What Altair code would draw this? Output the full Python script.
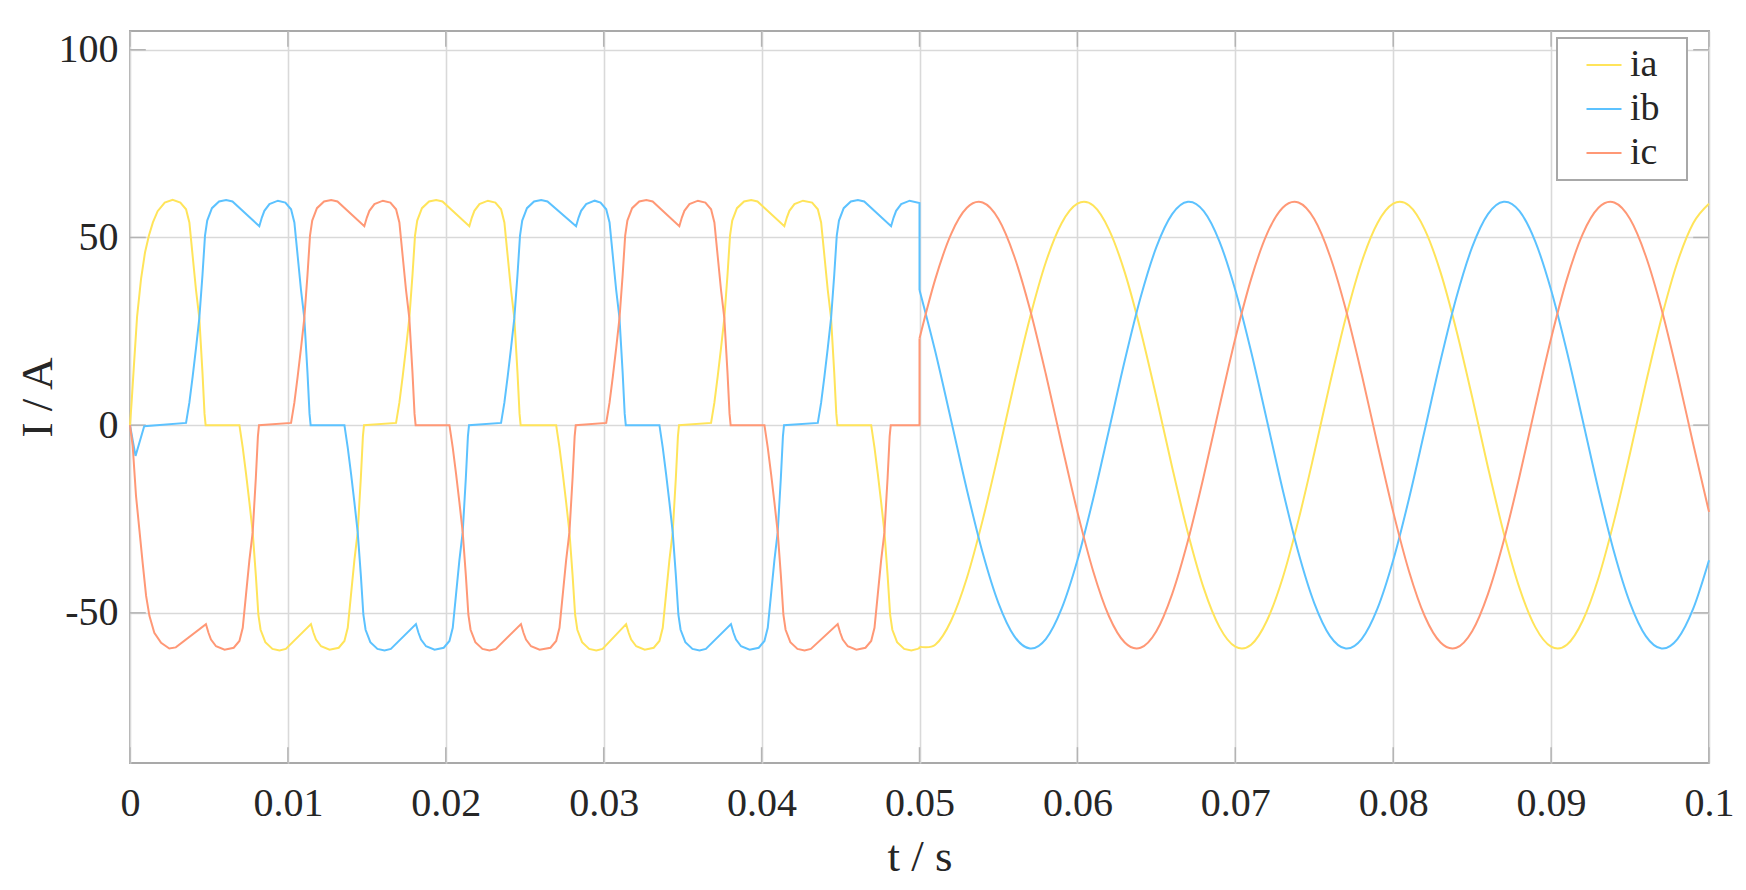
import altair as alt
import pandas as pd

FONT = "Liberation Serif"
TEXT = "#262626"

SERIES = ["ia", "ib", "ic"]
COLORS = ["#FFE45A", "#5CC2FF", "#FF9876"]

X_TICKS = [0, 0.01, 0.02, 0.03, 0.04, 0.05, 0.06, 0.07, 0.08, 0.09, 0.1]
Y_TICKS = [-50, 0, 50, 100]

# ---- six-step part (0 - 50 ms) ------------------------------------------
# instants (ms) where the two commutating phase currents cross
CROSS_MS = [4.39, 7.77, 11.04, 14.42, 17.69, 21.07, 24.34, 27.83,
            31.00, 34.37, 37.64, 41.02, 44.40, 47.78]

# leading edge of a pulse: offset from its crossing (ms), |I| (A)
ON_DT = [-0.84, -0.63, -0.42, -0.21, 0.00, 0.20, 0.36, 0.50, 0.80, 1.25, 1.70, 2.10]
ON_I = [0.6, 6.0, 13.0, 20.5, 28.5, 40.0, 50.5, 54.5, 57.8, 59.6, 60.0, 59.6]
# notch while the other group commutates: offset from that crossing (ms), |I|
NOTCH_DT = [0.42, 0.58, 0.74, 1.06, 1.60]
NOTCH_I = [53.0, 55.3, 57.1, 58.9, 59.8]
# trailing edge: offset from its crossing (ms), |I|
OFF_DT = [-1.20, -0.84, -0.63, -0.42, -0.21, 0.00, 0.20, 0.33, 0.40]
OFF_I = [59.3, 57.5, 54.0, 45.0, 36.0, 28.5, 14.0, 3.0, 0.0]

# start-up transient
IA_START_T = [0.0, 0.10, 0.25, 0.45, 0.70, 0.95, 1.20, 1.45, 1.75, 2.20, 2.70]
IA_START_I = [0.0, 6.0, 16.0, 29.0, 39.0, 46.0, 50.5, 54.0, 57.0, 59.3, 60.0]
IB_START_T = [0.0, 0.35, 0.90]
IB_START_I = [0.0, -8.2, -0.3]
IC_START_T = [0.0, 0.17, 0.38, 0.59, 0.80, 1.02, 1.23, 1.54, 1.97, 2.49, 2.90]
IC_START_I = [0.0, -5.5, -18.8, -27.7, -36.6, -45.5, -50.8, -55.3, -58.0, -59.5, -59.2]

# pulses: (sign, leading crossing, notch crossing, trailing crossing)
IA_PULSES = [(1, None, None, 0), (-1, 1, 2, 3), (1, 4, 5, 6),
             (-1, 7, 8, 9), (1, 10, 11, 12), (-1, 13, None, None)]
IB_PULSES = [(1, 0, 1, 2), (-1, 3, 4, 5), (1, 6, 7, 8),
             (-1, 9, 10, 11), (1, 12, 13, None)]
IC_PULSES = [(-1, None, 0, 1), (1, 2, 3, 4), (-1, 5, 6, 7),
             (1, 8, 9, 10), (-1, 11, 12, 13)]

SWITCH_MS = 50.0
PRE_SWITCH_I = [-59.4, 59.2, 0.0]

# ---- sinusoidal part (50 - 100 ms), one reading per ms ------------------
SINE_T_MS = list(range(50, 101))
IA_SINE = [-59.0, -58.5, -52.1, -40.7, -25.3, -7.5, 11.2, 28.7, 43.4, 53.8,
           59.0, 58.5, 52.1, 40.7, 25.3, 7.5, -11.2, -28.7, -43.4, -53.8,
           -59.0, -58.5, -52.1, -40.7, -25.3, -7.5, 11.2, 28.7, 43.4, 53.8,
           59.0, 58.5, 52.1, 40.7, 25.3, 7.5, -11.2, -28.7, -43.4, -53.8,
           -59.0, -58.5, -52.1, -40.7, -25.3, -7.5, 11.2, 28.7, 43.4, 53.8,
           59.0]
IB_SINE = [36.0, 19.6, 1.3, -17.2, -34.0, -47.4, -56.2, -59.5, -57.0, -48.9,
           -36.0, -19.6, -1.3, 17.2, 34.0, 47.4, 56.2, 59.5, 57.0, 48.9,
           36.0, 19.6, 1.3, -17.2, -34.0, -47.4, -56.2, -59.5, -57.0, -48.9,
           -36.0, -19.6, -1.3, 17.2, 34.0, 47.4, 56.2, 59.5, 57.0, 48.9,
           36.0, 19.6, 1.3, -17.2, -34.0, -47.4, -56.2, -59.5, -57.0, -48.9,
           -36.0]
IC_SINE = [23.1, 38.9, 50.9, 57.9, 59.3, 54.9, 45.0, 30.8, 13.6, -5.0,
           -23.1, -38.9, -50.9, -57.9, -59.3, -54.9, -45.0, -30.8, -13.6, 5.0,
           23.1, 38.9, 50.9, 57.9, 59.3, 54.9, 45.0, 30.8, 13.6, -5.0,
           -23.1, -38.9, -50.9, -57.9, -59.3, -54.9, -45.0, -30.8, -13.6, 5.0,
           23.1, 38.9, 50.9, 57.9, 59.3, 54.9, 45.0, 30.8, 13.6, -5.0,
           -23.1]


def six_step(start_t, start_i, pulses, pre_switch, first_sine):
    pts = list(zip(start_t, start_i))
    for sign, on, mid, off in pulses:
        if on is not None:
            for j, (dt, v) in enumerate(zip(ON_DT, ON_I)):
                val = 0.0 if (j == 0 and sign < 0) else sign * v
                pts.append((CROSS_MS[on] + dt, val))
        if mid is not None:
            for dt, v in zip(NOTCH_DT, NOTCH_I):
                pts.append((CROSS_MS[mid] + dt, sign * v))
        if off is not None:
            for dt, v in zip(OFF_DT, OFF_I):
                pts.append((CROSS_MS[off] + dt, sign * v))
    pts.append((SWITCH_MS, pre_switch))
    pts.append((SWITCH_MS, first_sine))
    return pts


rows_step, rows_sine = [], []
specs = [
    ("ia", IA_START_T, IA_START_I, IA_PULSES, PRE_SWITCH_I[0], IA_SINE),
    ("ib", IB_START_T, IB_START_I, IB_PULSES, PRE_SWITCH_I[1], IB_SINE),
    ("ic", IC_START_T, IC_START_I, IC_PULSES, PRE_SWITCH_I[2], IC_SINE),
]
for name, st, si, pulses, pre, sine in specs:
    for k, (t, v) in enumerate(six_step(st, si, pulses, pre, sine[0])):
        rows_step.append({"series": name, "t": t / 1000.0, "I": v, "order": k})
    for k, (t, v) in enumerate(zip(SINE_T_MS, sine)):
        rows_sine.append({"series": name, "t": t / 1000.0, "I": v, "order": k})

df_step = pd.DataFrame(rows_step)
df_sine = pd.DataFrame(rows_sine)

W, H = 1579, 732
TICK_LEN = 15.8
TICK_COLOR = "#B4B4B4"

x_enc = alt.X(
    "t:Q",
    scale=alt.Scale(domain=[0, 0.1], nice=False, zero=False),
    axis=alt.Axis(values=X_TICKS, labelExpr="format(datum.value, '.2~f')",
                  title="t / s", titleY=107, titleBaseline="alphabetic",
                  labelPadding=20),
)
y_enc = alt.Y(
    "I:Q",
    scale=alt.Scale(domain=[-90, 105], nice=False, zero=False),
    axis=alt.Axis(values=Y_TICKS,
                  labelExpr="datum.value < 0 ? '-' + abs(datum.value) : '' + datum.value",
                  title="I / A", titleX=-79, titleAngle=270,
                  titleBaseline="alphabetic", labelPadding=12),
)
# the (transparent) legend title on the right only widens the legend frame
color_enc = alt.Color(
    "series:N",
    scale=alt.Scale(domain=SERIES, range=COLORS),
    legend=alt.Legend(
        title="ib", titleOrient="right", titleOpacity=0, titleFont=FONT,
        titleFontSize=20, titlePadding=2,
        orient="none", legendX=1427, legendY=7,
        symbolType="stroke", symbolSize=1225, symbolStrokeWidth=2,
        symbolOffset=20, labelOffset=7,
        labelFont=FONT, labelFontSize=38, labelColor=TEXT,
        rowPadding=6, padding=8,
        strokeColor="#A8A8A8", fillColor="white",
    ),
)

xt = pd.DataFrame({"t": X_TICKS})
yt = pd.DataFrame({"I": Y_TICKS})
tick_b = alt.Chart(xt).mark_rule(color=TICK_COLOR, strokeWidth=1.5).encode(
    x=x_enc, y=alt.value(H - TICK_LEN), y2=alt.value(H))
tick_t = alt.Chart(xt).mark_rule(color=TICK_COLOR, strokeWidth=1.5).encode(
    x=x_enc, y=alt.value(0), y2=alt.value(TICK_LEN))
tick_l = alt.Chart(yt).mark_rule(color=TICK_COLOR, strokeWidth=1.5).encode(
    y=y_enc, x=alt.value(0), x2=alt.value(TICK_LEN))
tick_r = alt.Chart(yt).mark_rule(color=TICK_COLOR, strokeWidth=1.5).encode(
    y=y_enc, x=alt.value(W - TICK_LEN), x2=alt.value(W))

step_lines = alt.Chart(df_step).mark_line(strokeWidth=2, interpolate="linear").encode(
    x=x_enc, y=y_enc, color=color_enc, order=alt.Order("order:Q"))
sine_lines = alt.Chart(df_sine).mark_line(strokeWidth=2, interpolate="cardinal").encode(
    x=x_enc, y=y_enc, color=color_enc, order=alt.Order("order:Q"))

chart = alt.layer(tick_b, tick_t, tick_l, tick_r, step_lines, sine_lines).properties(
    width=W, height=H,
    padding={"left": 122, "top": 23, "right": 28, "bottom": 118},
    autosize=alt.AutoSizeParams(type="none"),
    background="white",
).configure_view(
    stroke="#A9A9A9", strokeWidth=2
).configure_axis(
    grid=True, gridColor="#D9D9D9", gridWidth=1.6,
    domain=False, ticks=False, tickSize=0, labelFlush=False,
    labelFont=FONT, labelFontSize=40, labelColor=TEXT,
    titleFont=FONT, titleFontSize=45, titleColor=TEXT, titleFontWeight="normal",
).configure_legend(
    strokeWidth=2
)

chart.save("out.html", embed_options={"renderer": "svg", "actions": False})
